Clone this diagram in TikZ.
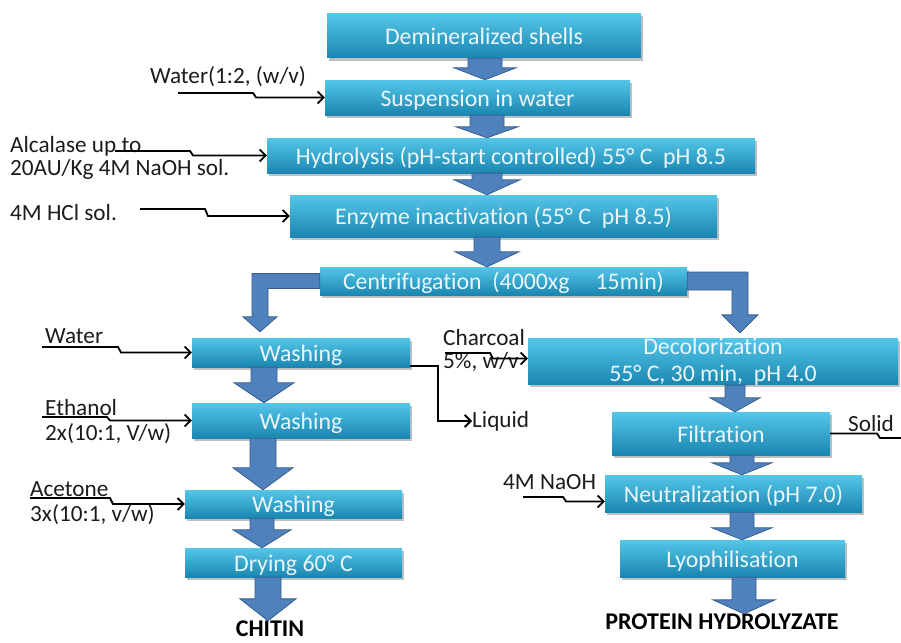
\documentclass[tikz,border=0pt]{standalone}
\usepackage{fontspec}
\setmainfont{Carlito}[Ligatures={NoCommon}]
\usetikzlibrary{arrows.meta,shadows,calc}
\definecolor{boxtop}{RGB}{84,198,232}
\definecolor{boxmid}{RGB}{45,168,210}
\definecolor{boxbot}{RGB}{26,134,176}
\definecolor{boxtext}{RGB}{234,246,251}
\definecolor{barfill}{RGB}{79,129,189}
\definecolor{barline}{RGB}{56,93,138}
\definecolor{ink}{RGB}{28,28,28}
\tikzset{
  procbox/.style={draw=none, top color=boxtop, middle color=boxmid, bottom color=boxbot,
    text=boxtext, font=\fontsize{23.8}{26}\selectfont, inner sep=0pt, align=center,
    drop shadow={shadow xshift=1.5pt, shadow yshift=-2.5pt, opacity=0.35, fill=black!70}},
  feedtext/.style={anchor=west, text=ink, inner sep=0pt, font=\fontsize{23.2}{25}\selectfont},
  feed/.style={draw=black, line width=1.8pt, -{Straight Barb[length=6pt,width=12pt]}},
  plainline/.style={draw=black, line width=1.8pt},
  blockarrow/.style={fill=barfill, draw=barline, line width=0.8pt, line join=miter},
  product/.style={font=\bfseries\fontsize{24}{26}\selectfont, text=black, inner sep=0pt}
}
\newcommand\pbox[6]{%
  \node[procbox, text height=17.5pt, text depth=0pt, minimum width=#4pt-#2pt, minimum height=#5pt-#3pt] (#1) at ({(#2+#4)/2},{(#3+#5)/2}) {#6};}
\newcommand\barrow[6]{%
  \draw[blockarrow] let \p1=(#2), \p2=(#3) in
    (#1pt-#4pt,\y1) -- (#1pt+#4pt,\y1) -- (#1pt+#4pt,\y2+#6pt) -- (#1pt+#5pt,\y2+#6pt)
    -- (#1pt,\y2) -- (#1pt-#5pt,\y2+#6pt) -- (#1pt-#4pt,\y2+#6pt) -- cycle;}
\newcommand\feedline[4]{%
  \draw[feed] (#1) -- (#1 -| #2) -- (#3 |- #4) -- (#4);}
\begin{document}
\begin{tikzpicture}[x=1pt,y=-1pt]
\fill[white] (0,0) rectangle (901,642);
\useasboundingbox (0,0) rectangle (901,642);

% process boxes
\pbox{demin}{327}{14}{641}{58}{Demineralized shells}
\pbox{susp}{325}{80}{630}{115}{Suspension in water}
\pbox{hydro}{267}{138}{755}{173}{Hydrolysis (pH-start controlled) 55° C\ \ pH 8.5}
\pbox{enzyme}{290}{195}{717}{237}{Enzyme inactivation (55° C\ \ pH 8.5)}
\pbox{centri}{320}{267}{687}{295}{Centrifugation\ \ (4000xg\hspace{1.1em}15min)}
\pbox{w1}{192}{338}{410}{367}{Washing}
\pbox{w2}{192}{403}{410}{438}{Washing}
\pbox{w3}{185}{490}{402}{518}{Washing}
\pbox{dry}{185}{548}{402}{577}{Drying 60° C}
\node[procbox, minimum width=370pt, minimum height=45pt, font=\fontsize{23.8}{26.5}\selectfont] (decol) at (713,361.5) {Decolorization\\55° C, 30 min,\ \ pH 4.0};
\pbox{filt}{612}{412}{830}{455}{Filtration}
\pbox{neut}{605}{475}{862}{512}{Neutralization (pH 7.0)}
\pbox{lyo}{620}{540}{845}{577}{Lyophilisation}

% products
\node[product] (chitin) at (270,629) {CHITIN};
\node[product] (ph) at (722,622) {PROTEIN HYDROLYZATE};

% side texts
\node[feedtext] (t1) at (150,77) {Water(1:2, (w/v)};
\node[feedtext] (t2a) at (10,146) {Alcalase up to};
\node[feedtext] (t2b) at (10,169) {20AU/Kg 4M NaOH sol.};
\node[feedtext] (t3) at (10,213) {4M HCl sol.};
\node[feedtext] (t4) at (45,336) {Water};
\node[feedtext] (t5a) at (45,408) {Ethanol};
\node[feedtext] (t5b) at (45,434) {2x(10:1, V/w)};
\node[feedtext] (t6a) at (30,489) {Acetone};
\node[feedtext] (t6b) at (30,515) {3x(10:1, v/w)};
\node[feedtext] (t7a) at (443,338) {Charcoal};
\node[feedtext] (t7b) at (443,362) {5\%, w/v};
\node[feedtext] (liq) at (472,421) {Liquid};
\node[feedtext] (t9) at (848,424) {Solid};
\node[feedtext] (t10) at (503,482) {4M NaOH};

% feed line start points and jogs
\coordinate (s1) at (178,93);  \coordinate (j1a) at (253,0); \coordinate (j1b) at (256,0);
\coordinate (s2) at (115,151); \coordinate (j2a) at (190,0); \coordinate (j2b) at (193,0);
\coordinate (s3) at (140,209); \coordinate (j3a) at (205,0); \coordinate (j3b) at (208,0);
\coordinate (s4) at (42,347);  \coordinate (j4a) at (118,0); \coordinate (j4b) at (121,0);
\coordinate (s5) at (42,417);  \coordinate (j5a) at (107,0); \coordinate (j5b) at (110,0);
\coordinate (s6) at (30,498);  \coordinate (j6a) at (110,0); \coordinate (j6b) at (113,0);
\coordinate (s7) at (445,353); \coordinate (j7a) at (490,0); \coordinate (j7b) at (493,0);
\coordinate (s8) at (523,497); \coordinate (j8a) at (563,0); \coordinate (j8b) at (566,0);
\coordinate (c7) at ([yshift=3pt]decol.west);
\coordinate (c8) at ([yshift=-8pt]neut.west);
\coordinate (j9a) at (877,0); \coordinate (j9b) at (880,0);
\coordinate (e9) at (901,438);

\feedline{s1}{j1a}{j1b}{susp.west}
\feedline{s2}{j2a}{j2b}{hydro.west}
\feedline{s3}{j3a}{j3b}{enzyme.west}
\feedline{s4}{j4a}{j4b}{w1.west}
\feedline{s5}{j5a}{j5b}{w2.west}
\feedline{s6}{j6a}{j6b}{w3.west}
\feedline{s7}{j7a}{j7b}{c7}
\feedline{s8}{j8a}{j8b}{c8}
\draw[feed] ([yshift=1pt]w1.south east) -- ++(28,0) |- (liq.west);
\draw[plainline] (filt.east) -- (filt.east -| j9a) -- (j9b |- e9) -- (e9);

% block arrows
\barrow{485}{demin.south}{susp.north}{17}{31}{12}
\barrow{487}{susp.south}{hydro.north}{17}{31}{11}
\barrow{487}{hydro.south}{enzyme.north}{15}{33}{15}
\barrow{487}{enzyme.south}{centri.north}{13}{32}{15}
\barrow{264}{w1.south}{w2.north}{13}{30}{20}
\barrow{263}{w2.south}{w3.north}{13}{30}{22}
\barrow{262}{w3.south}{dry.north}{12}{29}{18}
\barrow{268}{dry.south}{chitin.north}{13}{28}{22}
\barrow{735}{decol.south}{filt.north}{10}{25}{14}
\barrow{742}{filt.south}{neut.north}{12}{30}{12}
\barrow{742}{neut.south}{lyo.north}{12}{30}{12}
\barrow{744}{lyo.south}{ph.north}{12}{31}{14}

% elbow arrows from centrifugation
\draw[blockarrow] let \p1=(centri.west), \p2=(w1.north) in
  (\x1,\y1+7.5pt) -- (252pt,\y1+7.5pt) -- (252pt,\y2+21pt) -- (243pt,\y2+21pt)
  -- (260pt,\y2+6pt) -- (277pt,\y2+21pt) -- (268pt,\y2+21pt) -- (268pt,\y1-7.5pt)
  -- (\x1,\y1-7.5pt) -- cycle;
\draw[blockarrow] let \p1=(centri.east), \p2=(decol.north) in
  (\x1,\y1+9pt) -- (748pt,\y1+9pt) -- (748pt,\y2+23pt) -- (758pt,\y2+23pt)
  -- (740pt,\y2+5pt) -- (722pt,\y2+23pt) -- (732pt,\y2+23pt) -- (732pt,\y1-9pt)
  -- (\x1,\y1-9pt) -- cycle;
\end{tikzpicture}
\end{document}
